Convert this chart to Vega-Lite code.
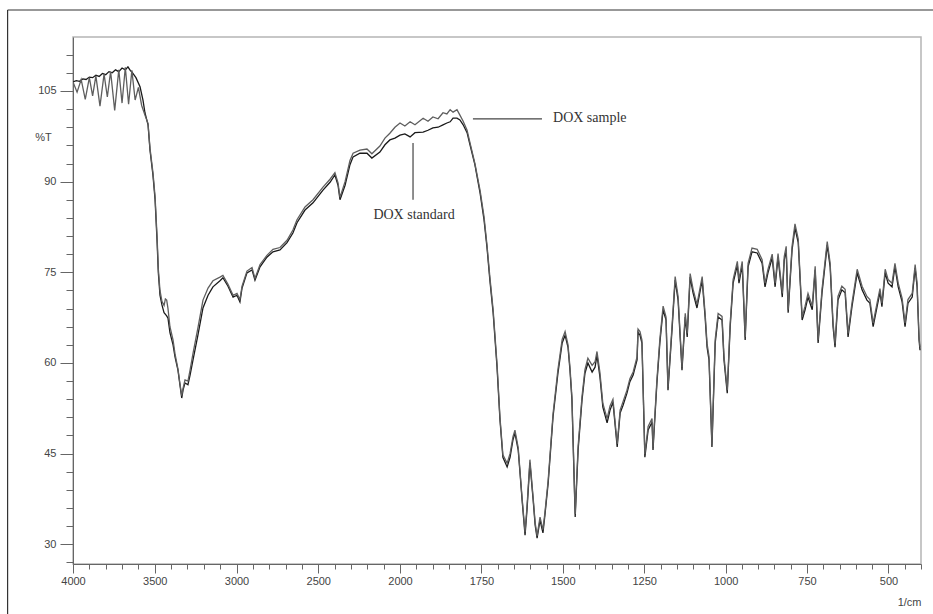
{
  "$schema": "https://vega.github.io/schema/vega-lite/v6.json",
  "width": 848,
  "height": 527,
  "autosize": "none",
  "padding": {"left": 73, "top": 37, "right": 12, "bottom": 50},
  "background": "white",
  "config": {
    "view": {"stroke": "#b5b5b5", "strokeWidth": 1.5},
    "font": "Liberation Sans",
    "axis": {"grid": false, "labelFont": "Liberation Sans", "labelFontSize": 11, "labelColor": "#444", "tickColor": "#666", "domainColor": "#666", "titleFont": "Liberation Sans", "titleFontSize": 11, "titleFontWeight": "normal", "titleColor": "#444", "labelOverlap": false, "labelFlush": false, "tickCount": 500}
  },
  "datasets": {
    "spectra": [
      {"series":"standard","wn":4000,"T":106.5},{"series":"standard","wn":3980,"T":106.7},{"series":"standard","wn":3960,"T":106.6},{"series":"standard","wn":3940,"T":107.0},{"series":"standard","wn":3920,"T":106.9},{"series":"standard","wn":3900,"T":107.3},{"series":"standard","wn":3880,"T":107.2},{"series":"standard","wn":3860,"T":107.6},{"series":"standard","wn":3840,"T":107.4},{"series":"standard","wn":3820,"T":107.9},{"series":"standard","wn":3800,"T":107.7},{"series":"standard","wn":3780,"T":108.2},{"series":"standard","wn":3760,"T":108.0},{"series":"standard","wn":3740,"T":108.5},{"series":"standard","wn":3720,"T":108.2},{"series":"standard","wn":3700,"T":108.8},{"series":"standard","wn":3680,"T":108.5},{"series":"standard","wn":3664,"T":109.0},{"series":"standard","wn":3650,"T":108.4},{"series":"standard","wn":3639,"T":108.1},{"series":"standard","wn":3615,"T":107.2},{"series":"standard","wn":3590,"T":105.7},{"series":"standard","wn":3572,"T":103.5},{"series":"standard","wn":3560,"T":101.4},{"series":"standard","wn":3541,"T":99.4},{"series":"standard","wn":3529,"T":95.2},{"series":"standard","wn":3511,"T":91.1},{"series":"standard","wn":3498,"T":87.0},{"series":"standard","wn":3486,"T":80.3},{"series":"standard","wn":3478,"T":74.9},{"series":"standard","wn":3468,"T":71.2},{"series":"standard","wn":3456,"T":69.6},{"series":"standard","wn":3443,"T":68.3},{"series":"standard","wn":3427,"T":67.8},{"series":"standard","wn":3419,"T":67.4},{"series":"standard","wn":3407,"T":65.0},{"series":"standard","wn":3388,"T":63.0},{"series":"standard","wn":3376,"T":61.0},{"series":"standard","wn":3358,"T":58.8},{"series":"standard","wn":3346,"T":56.4},{"series":"standard","wn":3335,"T":54.2},{"series":"standard","wn":3327,"T":55.5},{"series":"standard","wn":3315,"T":56.7},{"series":"standard","wn":3297,"T":56.4},{"series":"standard","wn":3284,"T":58.0},{"series":"standard","wn":3266,"T":60.5},{"series":"standard","wn":3236,"T":64.6},{"series":"standard","wn":3205,"T":69.1},{"series":"standard","wn":3174,"T":71.2},{"series":"standard","wn":3144,"T":72.6},{"series":"standard","wn":3101,"T":73.6},{"series":"standard","wn":3083,"T":74.1},{"series":"standard","wn":3052,"T":72.7},{"series":"standard","wn":3021,"T":70.9},{"series":"standard","wn":2997,"T":71.2},{"series":"standard","wn":2979,"T":70.1},{"series":"standard","wn":2966,"T":72.4},{"series":"standard","wn":2936,"T":74.9},{"series":"standard","wn":2905,"T":75.4},{"series":"standard","wn":2887,"T":73.7},{"series":"standard","wn":2856,"T":75.9},{"series":"standard","wn":2814,"T":77.5},{"series":"standard","wn":2777,"T":78.4},{"series":"standard","wn":2734,"T":78.7},{"series":"standard","wn":2691,"T":79.9},{"series":"standard","wn":2655,"T":81.5},{"series":"standard","wn":2630,"T":83.2},{"series":"standard","wn":2581,"T":85.3},{"series":"standard","wn":2532,"T":86.5},{"series":"standard","wn":2471,"T":88.6},{"series":"standard","wn":2428,"T":89.9},{"series":"standard","wn":2398,"T":91.1},{"series":"standard","wn":2379,"T":89.4},{"series":"standard","wn":2367,"T":87.0},{"series":"standard","wn":2336,"T":89.4},{"series":"standard","wn":2306,"T":92.8},{"series":"standard","wn":2287,"T":94.1},{"series":"standard","wn":2245,"T":94.7},{"series":"standard","wn":2202,"T":94.7},{"series":"standard","wn":2172,"T":93.9},{"series":"standard","wn":2123,"T":94.9},{"series":"standard","wn":2092,"T":96.1},{"series":"standard","wn":2062,"T":96.9},{"series":"standard","wn":2031,"T":97.2},{"series":"standard","wn":2000,"T":97.7},{"series":"standard","wn":1985,"T":97.9},{"series":"standard","wn":1969,"T":97.4},{"series":"standard","wn":1954,"T":98.1},{"series":"standard","wn":1929,"T":98.2},{"series":"standard","wn":1914,"T":98.5},{"series":"standard","wn":1899,"T":98.9},{"series":"standard","wn":1883,"T":99.0},{"series":"standard","wn":1868,"T":99.4},{"series":"standard","wn":1856,"T":99.7},{"series":"standard","wn":1846,"T":99.9},{"series":"standard","wn":1837,"T":100.5},{"series":"standard","wn":1825,"T":100.5},{"series":"standard","wn":1816,"T":100.2},{"series":"standard","wn":1806,"T":99.4},{"series":"standard","wn":1794,"T":98.1},{"series":"standard","wn":1785,"T":96.1},{"series":"standard","wn":1770,"T":92.8},{"series":"standard","wn":1754,"T":88.1},{"series":"standard","wn":1742,"T":83.7},{"series":"standard","wn":1733,"T":79.2},{"series":"standard","wn":1724,"T":73.7},{"series":"standard","wn":1714,"T":68.3},{"series":"standard","wn":1702,"T":59.3},{"series":"standard","wn":1693,"T":50.6},{"series":"standard","wn":1684,"T":44.4},{"series":"standard","wn":1671,"T":42.8},{"series":"standard","wn":1662,"T":44.4},{"series":"standard","wn":1653,"T":47.3},{"series":"standard","wn":1647,"T":48.4},{"series":"standard","wn":1637,"T":45.6},{"series":"standard","wn":1631,"T":41.5},{"series":"standard","wn":1625,"T":37.3},{"series":"standard","wn":1616,"T":31.5},{"series":"standard","wn":1610,"T":35.7},{"series":"standard","wn":1601,"T":43.5},{"series":"standard","wn":1591,"T":37.3},{"series":"standard","wn":1585,"T":33.2},{"series":"standard","wn":1579,"T":31.0},{"series":"standard","wn":1570,"T":34.0},{"series":"standard","wn":1561,"T":31.9},{"series":"standard","wn":1555,"T":34.8},{"series":"standard","wn":1545,"T":40.1},{"series":"standard","wn":1530,"T":51.1},{"series":"standard","wn":1515,"T":58.3},{"series":"standard","wn":1502,"T":63.3},{"series":"standard","wn":1493,"T":64.6},{"series":"standard","wn":1484,"T":62.6},{"series":"standard","wn":1478,"T":58.8},{"series":"standard","wn":1472,"T":53.9},{"series":"standard","wn":1462,"T":34.5},{"series":"standard","wn":1453,"T":45.6},{"series":"standard","wn":1441,"T":53.9},{"series":"standard","wn":1432,"T":58.3},{"series":"standard","wn":1423,"T":60.0},{"series":"standard","wn":1410,"T":58.5},{"series":"standard","wn":1401,"T":59.3},{"series":"standard","wn":1395,"T":61.3},{"series":"standard","wn":1386,"T":57.7},{"series":"standard","wn":1377,"T":52.7},{"series":"standard","wn":1364,"T":50.1},{"series":"standard","wn":1355,"T":52.2},{"series":"standard","wn":1346,"T":53.5},{"series":"standard","wn":1333,"T":46.1},{"series":"standard","wn":1324,"T":51.7},{"series":"standard","wn":1315,"T":53.0},{"series":"standard","wn":1303,"T":55.0},{"series":"standard","wn":1294,"T":56.9},{"series":"standard","wn":1284,"T":58.0},{"series":"standard","wn":1272,"T":60.5},{"series":"standard","wn":1269,"T":65.1},{"series":"standard","wn":1263,"T":64.6},{"series":"standard","wn":1257,"T":63.3},{"series":"standard","wn":1248,"T":44.4},{"series":"standard","wn":1238,"T":48.9},{"series":"standard","wn":1226,"T":50.2},{"series":"standard","wn":1223,"T":45.6},{"series":"standard","wn":1211,"T":56.7},{"series":"standard","wn":1202,"T":63.3},{"series":"standard","wn":1192,"T":68.8},{"series":"standard","wn":1183,"T":67.1},{"series":"standard","wn":1177,"T":55.5},{"series":"standard","wn":1164,"T":66.0},{"series":"standard","wn":1155,"T":73.7},{"series":"standard","wn":1146,"T":70.4},{"series":"standard","wn":1134,"T":58.8},{"series":"standard","wn":1124,"T":67.6},{"series":"standard","wn":1118,"T":64.3},{"series":"standard","wn":1109,"T":74.2},{"series":"standard","wn":1100,"T":71.6},{"series":"standard","wn":1088,"T":69.1},{"series":"standard","wn":1072,"T":73.7},{"series":"standard","wn":1063,"T":67.6},{"series":"standard","wn":1057,"T":62.6},{"series":"standard","wn":1051,"T":60.5},{"series":"standard","wn":1042,"T":46.1},{"series":"standard","wn":1032,"T":63.3},{"series":"standard","wn":1023,"T":67.6},{"series":"standard","wn":1011,"T":67.1},{"series":"standard","wn":1005,"T":60.5},{"series":"standard","wn":995,"T":55.0},{"series":"standard","wn":986,"T":66.0},{"series":"standard","wn":977,"T":73.2},{"series":"standard","wn":964,"T":76.2},{"series":"standard","wn":959,"T":73.2},{"series":"standard","wn":949,"T":76.2},{"series":"standard","wn":940,"T":63.8},{"series":"standard","wn":931,"T":75.9},{"series":"standard","wn":919,"T":78.4},{"series":"standard","wn":903,"T":78.2},{"series":"standard","wn":888,"T":76.5},{"series":"standard","wn":879,"T":72.6},{"series":"standard","wn":870,"T":74.9},{"series":"standard","wn":857,"T":77.4},{"series":"standard","wn":848,"T":72.6},{"series":"standard","wn":839,"T":77.5},{"series":"standard","wn":826,"T":70.9},{"series":"standard","wn":820,"T":77.0},{"series":"standard","wn":814,"T":78.7},{"series":"standard","wn":808,"T":68.3},{"series":"standard","wn":796,"T":78.7},{"series":"standard","wn":787,"T":82.3},{"series":"standard","wn":777,"T":79.9},{"series":"standard","wn":765,"T":67.1},{"series":"standard","wn":756,"T":68.8},{"series":"standard","wn":747,"T":70.9},{"series":"standard","wn":734,"T":68.8},{"series":"standard","wn":725,"T":75.4},{"series":"standard","wn":716,"T":63.3},{"series":"standard","wn":704,"T":71.6},{"series":"standard","wn":688,"T":79.5},{"series":"standard","wn":679,"T":75.9},{"series":"standard","wn":670,"T":66.0},{"series":"standard","wn":664,"T":62.6},{"series":"standard","wn":655,"T":70.4},{"series":"standard","wn":643,"T":72.1},{"series":"standard","wn":633,"T":71.6},{"series":"standard","wn":624,"T":64.3},{"series":"standard","wn":612,"T":69.3},{"series":"standard","wn":596,"T":74.9},{"series":"standard","wn":581,"T":72.1},{"series":"standard","wn":566,"T":70.4},{"series":"standard","wn":557,"T":69.9},{"series":"standard","wn":547,"T":66.0},{"series":"standard","wn":535,"T":69.3},{"series":"standard","wn":526,"T":71.7},{"series":"standard","wn":520,"T":69.3},{"series":"standard","wn":510,"T":74.9},{"series":"standard","wn":501,"T":73.2},{"series":"standard","wn":489,"T":72.6},{"series":"standard","wn":480,"T":75.9},{"series":"standard","wn":470,"T":72.6},{"series":"standard","wn":458,"T":70.1},{"series":"standard","wn":449,"T":66.0},{"series":"standard","wn":440,"T":69.9},{"series":"standard","wn":427,"T":70.9},{"series":"standard","wn":418,"T":75.7},{"series":"standard","wn":412,"T":72.6},{"series":"standard","wn":406,"T":63.8},{"series":"standard","wn":403,"T":62.1},
      {"series":"sample","wn":4000,"T":106.5},{"series":"sample","wn":3975,"T":104.8},{"series":"sample","wn":3950,"T":106.9},{"series":"sample","wn":3925,"T":103.6},{"series":"sample","wn":3900,"T":107.2},{"series":"sample","wn":3880,"T":104.2},{"series":"sample","wn":3860,"T":107.5},{"series":"sample","wn":3835,"T":102.5},{"series":"sample","wn":3810,"T":107.8},{"series":"sample","wn":3790,"T":104.0},{"series":"sample","wn":3770,"T":108.2},{"series":"sample","wn":3745,"T":101.8},{"series":"sample","wn":3720,"T":108.5},{"series":"sample","wn":3700,"T":103.0},{"series":"sample","wn":3680,"T":108.9},{"series":"sample","wn":3660,"T":102.8},{"series":"sample","wn":3640,"T":108.4},{"series":"sample","wn":3620,"T":103.5},{"series":"sample","wn":3600,"T":105.6},{"series":"sample","wn":3580,"T":102.6},{"series":"sample","wn":3560,"T":101.0},{"series":"sample","wn":3541,"T":99.6},{"series":"sample","wn":3529,"T":95.5},{"series":"sample","wn":3511,"T":91.5},{"series":"sample","wn":3498,"T":87.5},{"series":"sample","wn":3486,"T":81.0},{"series":"sample","wn":3478,"T":75.5},{"series":"sample","wn":3468,"T":72.0},{"series":"sample","wn":3456,"T":70.2},{"series":"sample","wn":3443,"T":69.5},{"series":"sample","wn":3435,"T":70.6},{"series":"sample","wn":3427,"T":70.4},{"series":"sample","wn":3419,"T":69.0},{"series":"sample","wn":3407,"T":66.0},{"series":"sample","wn":3388,"T":63.8},{"series":"sample","wn":3376,"T":61.5},{"series":"sample","wn":3358,"T":59.0},{"series":"sample","wn":3346,"T":56.6},{"series":"sample","wn":3335,"T":54.6},{"series":"sample","wn":3327,"T":55.8},{"series":"sample","wn":3315,"T":57.2},{"series":"sample","wn":3297,"T":57.0},{"series":"sample","wn":3284,"T":58.8},{"series":"sample","wn":3266,"T":61.6},{"series":"sample","wn":3236,"T":65.8},{"series":"sample","wn":3205,"T":70.4},{"series":"sample","wn":3174,"T":72.4},{"series":"sample","wn":3144,"T":73.6},{"series":"sample","wn":3101,"T":74.2},{"series":"sample","wn":3083,"T":74.5},{"series":"sample","wn":3052,"T":73.0},{"series":"sample","wn":3021,"T":71.2},{"series":"sample","wn":2997,"T":71.5},{"series":"sample","wn":2979,"T":70.5},{"series":"sample","wn":2966,"T":72.7},{"series":"sample","wn":2936,"T":75.2},{"series":"sample","wn":2905,"T":75.8},{"series":"sample","wn":2887,"T":74.0},{"series":"sample","wn":2856,"T":76.3},{"series":"sample","wn":2814,"T":77.8},{"series":"sample","wn":2777,"T":78.8},{"series":"sample","wn":2734,"T":79.1},{"series":"sample","wn":2691,"T":80.3},{"series":"sample","wn":2655,"T":82.0},{"series":"sample","wn":2630,"T":83.7},{"series":"sample","wn":2581,"T":85.8},{"series":"sample","wn":2532,"T":87.0},{"series":"sample","wn":2471,"T":89.1},{"series":"sample","wn":2428,"T":90.4},{"series":"sample","wn":2398,"T":91.5},{"series":"sample","wn":2379,"T":89.8},{"series":"sample","wn":2367,"T":87.4},{"series":"sample","wn":2336,"T":90.0},{"series":"sample","wn":2306,"T":93.5},{"series":"sample","wn":2287,"T":94.7},{"series":"sample","wn":2245,"T":95.2},{"series":"sample","wn":2202,"T":95.4},{"series":"sample","wn":2172,"T":94.6},{"series":"sample","wn":2123,"T":95.9},{"series":"sample","wn":2092,"T":97.2},{"series":"sample","wn":2062,"T":98.0},{"series":"sample","wn":2031,"T":99.0},{"series":"sample","wn":2000,"T":99.7},{"series":"sample","wn":1985,"T":99.2},{"series":"sample","wn":1969,"T":99.9},{"series":"sample","wn":1954,"T":99.4},{"series":"sample","wn":1929,"T":100.5},{"series":"sample","wn":1914,"T":100.0},{"series":"sample","wn":1899,"T":100.7},{"series":"sample","wn":1883,"T":100.4},{"series":"sample","wn":1868,"T":101.4},{"series":"sample","wn":1856,"T":101.2},{"series":"sample","wn":1846,"T":101.9},{"series":"sample","wn":1837,"T":101.5},{"series":"sample","wn":1825,"T":101.9},{"series":"sample","wn":1816,"T":101.0},{"series":"sample","wn":1806,"T":100.0},{"series":"sample","wn":1794,"T":98.5},{"series":"sample","wn":1785,"T":96.4},{"series":"sample","wn":1770,"T":93.0},{"series":"sample","wn":1754,"T":88.5},{"series":"sample","wn":1742,"T":84.2},{"series":"sample","wn":1733,"T":79.6},{"series":"sample","wn":1724,"T":74.2},{"series":"sample","wn":1714,"T":68.8},{"series":"sample","wn":1702,"T":59.8},{"series":"sample","wn":1693,"T":51.0},{"series":"sample","wn":1684,"T":44.8},{"series":"sample","wn":1671,"T":43.4},{"series":"sample","wn":1662,"T":45.0},{"series":"sample","wn":1653,"T":47.8},{"series":"sample","wn":1647,"T":48.9},{"series":"sample","wn":1637,"T":46.0},{"series":"sample","wn":1631,"T":41.8},{"series":"sample","wn":1625,"T":37.6},{"series":"sample","wn":1616,"T":32.0},{"series":"sample","wn":1610,"T":36.2},{"series":"sample","wn":1601,"T":44.0},{"series":"sample","wn":1591,"T":37.6},{"series":"sample","wn":1585,"T":33.6},{"series":"sample","wn":1579,"T":31.4},{"series":"sample","wn":1570,"T":34.5},{"series":"sample","wn":1561,"T":32.4},{"series":"sample","wn":1555,"T":35.2},{"series":"sample","wn":1545,"T":40.6},{"series":"sample","wn":1530,"T":51.6},{"series":"sample","wn":1515,"T":58.9},{"series":"sample","wn":1502,"T":63.9},{"series":"sample","wn":1493,"T":65.2},{"series":"sample","wn":1484,"T":63.0},{"series":"sample","wn":1478,"T":59.3},{"series":"sample","wn":1472,"T":54.4},{"series":"sample","wn":1462,"T":35.0},{"series":"sample","wn":1453,"T":46.2},{"series":"sample","wn":1441,"T":54.5},{"series":"sample","wn":1432,"T":58.9},{"series":"sample","wn":1423,"T":60.8},{"series":"sample","wn":1410,"T":59.6},{"series":"sample","wn":1401,"T":60.2},{"series":"sample","wn":1395,"T":61.9},{"series":"sample","wn":1386,"T":58.4},{"series":"sample","wn":1377,"T":53.3},{"series":"sample","wn":1364,"T":50.8},{"series":"sample","wn":1355,"T":52.9},{"series":"sample","wn":1346,"T":54.0},{"series":"sample","wn":1333,"T":46.6},{"series":"sample","wn":1324,"T":52.2},{"series":"sample","wn":1315,"T":53.6},{"series":"sample","wn":1303,"T":55.5},{"series":"sample","wn":1294,"T":57.4},{"series":"sample","wn":1284,"T":58.5},{"series":"sample","wn":1272,"T":61.0},{"series":"sample","wn":1269,"T":65.6},{"series":"sample","wn":1263,"T":65.2},{"series":"sample","wn":1257,"T":63.8},{"series":"sample","wn":1248,"T":44.9},{"series":"sample","wn":1238,"T":49.5},{"series":"sample","wn":1226,"T":50.8},{"series":"sample","wn":1223,"T":46.1},{"series":"sample","wn":1211,"T":57.2},{"series":"sample","wn":1202,"T":63.9},{"series":"sample","wn":1192,"T":69.4},{"series":"sample","wn":1183,"T":67.6},{"series":"sample","wn":1177,"T":56.0},{"series":"sample","wn":1164,"T":66.6},{"series":"sample","wn":1155,"T":74.3},{"series":"sample","wn":1146,"T":71.0},{"series":"sample","wn":1134,"T":59.3},{"series":"sample","wn":1124,"T":68.2},{"series":"sample","wn":1118,"T":64.9},{"series":"sample","wn":1109,"T":74.8},{"series":"sample","wn":1100,"T":72.2},{"series":"sample","wn":1088,"T":69.7},{"series":"sample","wn":1072,"T":74.3},{"series":"sample","wn":1063,"T":68.2},{"series":"sample","wn":1057,"T":63.2},{"series":"sample","wn":1051,"T":61.1},{"series":"sample","wn":1042,"T":46.5},{"series":"sample","wn":1032,"T":63.9},{"series":"sample","wn":1023,"T":68.2},{"series":"sample","wn":1011,"T":67.7},{"series":"sample","wn":1005,"T":61.1},{"series":"sample","wn":995,"T":55.5},{"series":"sample","wn":986,"T":66.6},{"series":"sample","wn":977,"T":73.8},{"series":"sample","wn":964,"T":76.8},{"series":"sample","wn":959,"T":73.8},{"series":"sample","wn":949,"T":76.8},{"series":"sample","wn":940,"T":64.3},{"series":"sample","wn":931,"T":76.5},{"series":"sample","wn":919,"T":79.0},{"series":"sample","wn":903,"T":78.8},{"series":"sample","wn":888,"T":77.1},{"series":"sample","wn":879,"T":73.2},{"series":"sample","wn":870,"T":75.5},{"series":"sample","wn":857,"T":78.0},{"series":"sample","wn":848,"T":73.2},{"series":"sample","wn":839,"T":78.1},{"series":"sample","wn":826,"T":71.5},{"series":"sample","wn":820,"T":77.6},{"series":"sample","wn":814,"T":79.3},{"series":"sample","wn":808,"T":68.8},{"series":"sample","wn":796,"T":79.3},{"series":"sample","wn":787,"T":83.0},{"series":"sample","wn":777,"T":80.5},{"series":"sample","wn":765,"T":67.6},{"series":"sample","wn":756,"T":69.4},{"series":"sample","wn":747,"T":71.5},{"series":"sample","wn":734,"T":69.4},{"series":"sample","wn":725,"T":76.0},{"series":"sample","wn":716,"T":63.8},{"series":"sample","wn":704,"T":72.2},{"series":"sample","wn":688,"T":80.1},{"series":"sample","wn":679,"T":76.5},{"series":"sample","wn":670,"T":66.6},{"series":"sample","wn":664,"T":63.2},{"series":"sample","wn":655,"T":71.0},{"series":"sample","wn":643,"T":72.7},{"series":"sample","wn":633,"T":72.2},{"series":"sample","wn":624,"T":64.9},{"series":"sample","wn":612,"T":69.9},{"series":"sample","wn":596,"T":75.5},{"series":"sample","wn":581,"T":72.7},{"series":"sample","wn":566,"T":71.0},{"series":"sample","wn":557,"T":70.5},{"series":"sample","wn":547,"T":66.6},{"series":"sample","wn":535,"T":69.9},{"series":"sample","wn":526,"T":72.3},{"series":"sample","wn":520,"T":69.9},{"series":"sample","wn":510,"T":75.5},{"series":"sample","wn":501,"T":73.8},{"series":"sample","wn":489,"T":73.2},{"series":"sample","wn":480,"T":76.5},{"series":"sample","wn":470,"T":73.2},{"series":"sample","wn":458,"T":70.7},{"series":"sample","wn":449,"T":66.6},{"series":"sample","wn":440,"T":70.5},{"series":"sample","wn":427,"T":71.5},{"series":"sample","wn":418,"T":76.3},{"series":"sample","wn":412,"T":73.2},{"series":"sample","wn":406,"T":64.3},{"series":"sample","wn":403,"T":62.6}
    ],
    "leaders": [
      {"name":"DOX sample","wn":1776,"wn2":1564,"T":100.4,"T2":100.4},
      {"name":"DOX standard","wn":1960,"wn2":1960,"T":96.4,"T2":87.0}
    ],
    "labelSample": [{"name":"DOX sample","wn":1530,"T":100.5}],
    "labelStandard": [{"name":"DOX standard","wn":1957,"T":84.5}]
  },
  "layer": [
    {
      "data": {"name": "spectra"},
      "mark": {"type": "line", "strokeWidth": 1.3, "clip": true},
      "encoding": {
        "x": {
          "field": "wn", "type": "quantitative",
          "scale": {"domain": [4000, 2000, 400], "range": [0, 327, 848], "nice": false, "zero": false},
          "axis": {
            "values": [4000,3900,3800,3700,3600,3500,3400,3300,3200,3100,3000,2900,2800,2700,2600,2500,2400,2300,2200,2100,2000,1950,1900,1850,1800,1750,1700,1650,1600,1550,1500,1450,1400,1350,1300,1250,1200,1150,1100,1050,1000,950,900,850,800,750,700,650,600,550,500,450,400],
            "tickCount": 500,
            "labelExpr": "((datum.value >= 2000 && datum.value % 500 === 0) || (datum.value < 2000 && datum.value % 250 === 0)) ? datum.label : ''",
            "format": "d",
            "tickSize": {"condition": {"test": "(datum.value >= 2000 && datum.value % 500 === 0) || (datum.value < 2000 && datum.value % 250 === 0)", "value": 9}, "value": 5},
            "labelPadding": 2,
            "title": "1/cm", "titleX": 848, "titleY": 38, "titleAlign": "right", "titleBaseline": "middle"
          }
        },
        "y": {
          "field": "T", "type": "quantitative",
          "scale": {"domain": [26.74, 113.93], "nice": false, "zero": false},
          "axis": {
            "values": [27,30,33,36,39,42,45,48,51,54,57,60,63,66,69,72,75,78,81,84,87,90,93,96,99,102,105,108,111],
            "tickCount": 500,
            "format": "d",
            "labelExpr": "datum.value % 15 === 0 ? datum.label : ''",
            "tickSize": {"condition": {"test": "datum.value % 15 === 0", "value": 13}, "value": 7},
            "labelPadding": 4,
            "title": "%T", "titleAngle": 0, "titleX": -30, "titleY": 100, "titleAlign": "center", "titleBaseline": "middle"
          }
        },
        "color": {"field": "series", "type": "nominal", "scale": {"domain": ["sample", "standard"], "range": ["#5e5e5e", "#1a1a1a"]}, "legend": null}
      }
    },
    {
      "data": {"name": "leaders"},
      "mark": {"type": "rule", "color": "#444", "strokeWidth": 1.2},
      "encoding": {
        "x": {"field": "wn", "type": "quantitative"},
        "x2": {"field": "wn2"},
        "y": {"field": "T", "type": "quantitative"},
        "y2": {"field": "T2"}
      }
    },
    {
      "data": {"name": "labelSample"},
      "mark": {"type": "text", "font": "Liberation Serif", "fontSize": 14, "color": "#333", "baseline": "middle", "align": "left"},
      "encoding": {
        "x": {"field": "wn", "type": "quantitative"},
        "y": {"field": "T", "type": "quantitative"},
        "text": {"field": "name"}
      }
    },
    {
      "data": {"name": "labelStandard"},
      "mark": {"type": "text", "font": "Liberation Serif", "fontSize": 14, "color": "#333", "baseline": "middle", "align": "center"},
      "encoding": {
        "x": {"field": "wn", "type": "quantitative"},
        "y": {"field": "T", "type": "quantitative"},
        "text": {"field": "name"}
      }
    },
    {
      "data": {"values": [{}]},
      "mark": {"type": "rule", "color": "#333", "strokeWidth": 1.2, "clip": false},
      "encoding": {"x": {"datum": 4400}, "y": {"datum": 118.4}, "y2": {"datum": 10}}
    },
    {
      "data": {"values": [{}]},
      "mark": {"type": "rule", "color": "#333", "strokeWidth": 1.2, "clip": false},
      "encoding": {"x": {"datum": 4400}, "x2": {"datum": 300}, "y": {"datum": 118.4}}
    }
  ]
}
